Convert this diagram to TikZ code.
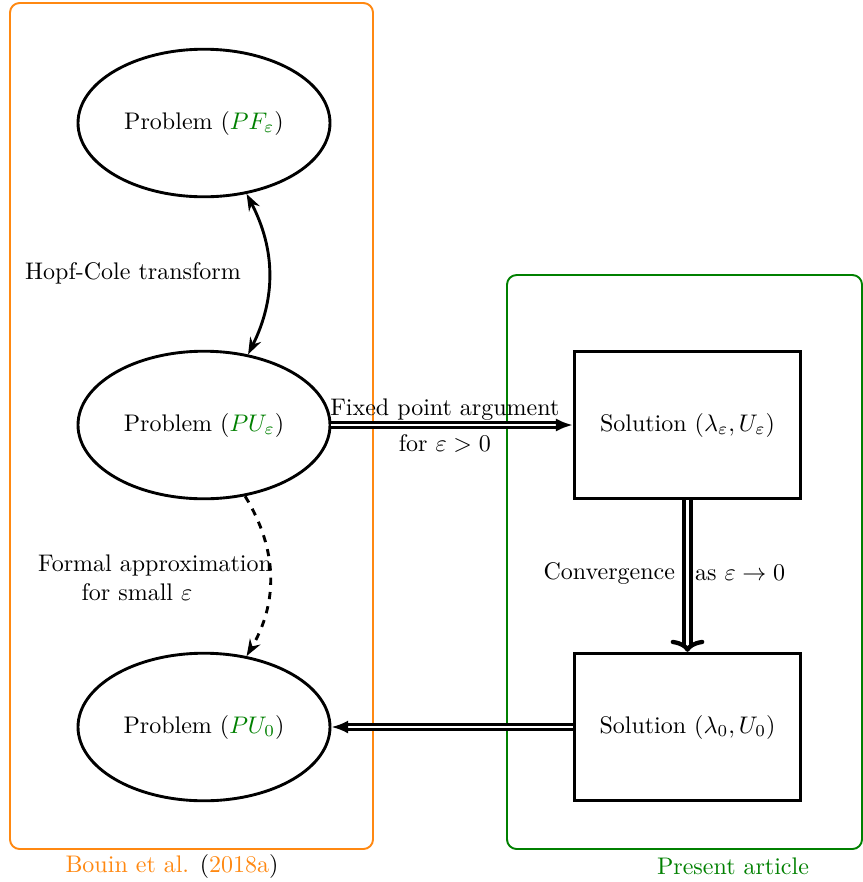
\documentclass[tikz,border=0pt]{standalone}
\usetikzlibrary{shapes.geometric,arrows.meta}
\definecolor{bouin}{RGB}{255,136,17}
\definecolor{art}{RGB}{0,128,0}
\begin{document}
\begin{tikzpicture}[x=0.4167pt,y=-0.4167pt,
  prob/.style={ellipse,draw,very thick,minimum width=105pt,minimum height=61.5pt,inner sep=0pt},
  sol/.style={rectangle,draw,very thick,minimum width=94.5pt,minimum height=61.5pt,inner sep=0pt},
  dbl/.style={double,very thick,double distance=0.9pt,-{Latex[length=7pt,width=5.5pt]}}]
\useasboundingbox (0,0) rectangle (863,882);
\draw[bouin,thick,rounded corners=4pt] (10,3) rectangle (373,849);
\draw[art,thick,rounded corners=4pt] (507,275) rectangle (862,849);

\node[prob] (pf) at (204,123) {Problem ($\textcolor{art}{PF_\varepsilon}$)};
\node[prob] (pu) at (204,425) {Problem ($\textcolor{art}{PU_\varepsilon}$)};
\node[prob] (p0) at (204,727) {Problem ($\textcolor{art}{PU_0}$)};
\node[sol] (se) at (687.5,425) {Solution $(\lambda_\varepsilon,U_\varepsilon)$};
\node[sol] (s0) at (687.5,727) {Solution $(\lambda_0,U_0)$};

\draw[very thick,{Stealth[length=7pt,width=5pt]}-{Stealth[length=7pt,width=5pt]}] (pf.-59) to[bend left=27] (pu.58);
\node (hc) at (133,273) {Hopf-Cole transform};

\draw[very thick,dashed,-{Stealth[length=7pt,width=5pt]}] (pu.-60) to[bend left=31] (p0.59);
\node[align=center] (fa) at (155,578) {Formal approximation\\for small $\varepsilon$\hspace*{15pt}};

\draw[dbl] (pu.east) -- node[above,pos=0.47,yshift=-2pt] {Fixed point argument} node[below,pos=0.47] {for $\varepsilon>0$} (se.west);

\draw[double,line width=1.5pt,double distance=1.4pt,-{To[length=5pt,width=14pt,line width=1.8pt]}] (se.south) -- coordinate[pos=0.5] (cm) (s0.north);
\node[left,inner sep=2pt] (cv) at ([xshift=-3pt,yshift=1pt]cm) {Convergence};
\node[right,inner sep=3pt] (ae) at ([yshift=1.5pt]cm) {as $\varepsilon\to0$};

\draw[dbl] (s0.west) -- (p0.east);

\node (lb) at (172,866) {\textcolor{bouin}{Bouin et al.} (\textcolor{bouin}{2018a})};
\node[text=art] (lp) at (733,866) {Present article};
\end{tikzpicture}
\end{document}
